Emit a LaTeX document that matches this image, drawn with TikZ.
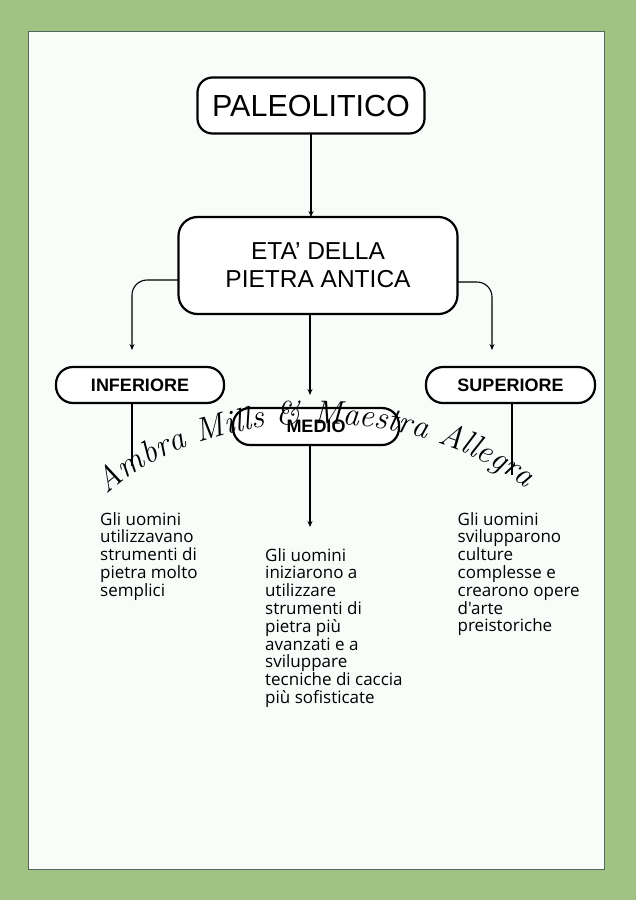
\documentclass[tikz,border=0pt]{standalone}
\usepackage{fontspec}
\newfontfamily\headfont{Liberation Sans}
\newfontfamily\bodyfont{Open Sans}[Ligatures=NoCommon]
\usetikzlibrary{arrows.meta,decorations.text}
\definecolor{bggreen}{HTML}{A0C283}
\definecolor{panelfill}{HTML}{F8FDF9}
\definecolor{panelline}{HTML}{56665A}
\tikzset{
  titlebox/.style={draw=black, line width=2.2pt, fill=white, rounded corners=15pt, inner sep=0pt, outer sep=0pt, align=center},
  pillbox/.style={draw=black, line width=2.2pt, fill=white, rounded corners=17pt, inner sep=0pt, outer sep=0pt, font=\headfont\bfseries\fontsize{18}{20}\selectfont},
  conn/.style={line width=1.1pt, draw=black},
  arr/.style={conn, -{Stealth[length=6pt,width=5pt]}},
  bodytext/.style={anchor=north west, inner sep=0pt, align=left, font=\bodyfont\fontsize{17}{17.8}\selectfont}
}
\begin{document}
\begin{tikzpicture}[x=1pt,y=-1pt]
\useasboundingbox (0,0) rectangle (636,900);
\fill[bggreen] (0,0) rectangle (636,900);
\draw[panelline, fill=panelfill, line width=1pt] (28,31) rectangle (604,869);

% nodes
\node[titlebox, minimum width=227pt, minimum height=56pt, rounded corners=15pt, font=\headfont\fontsize{30.5}{32}\selectfont] (pal) at (311,105.5) {PALEOLITICO};
\node[titlebox, minimum width=279pt, minimum height=97pt, rounded corners=19pt, font=\headfont\fontsize{24.5}{28}\selectfont] (eta) at (318,265.5) {ETA’ DELLA\\PIETRA ANTICA};
\node[pillbox, minimum width=168pt, minimum height=36pt] (inf) at (140,385) {INFERIORE};
\node[pillbox, minimum width=169pt, minimum height=36pt] (sup) at (510.5,385) {SUPERIORE};
\node[pillbox, minimum width=166pt, minimum height=37pt] (med) at (316,426.5) {MEDIO};

% coordinates for free ends
\coordinate (lt) at (132,350);
\coordinate (rt) at (492,350);
\coordinate (mt) at (310,395);
\coordinate (mt2) at (310,527);
\coordinate (lb) at (132,466);
\coordinate (rb) at (512,475);

% connectors
\draw[arr] (pal.south) -- (pal.south |- eta.north);
\draw[arr, rounded corners=15pt] ([yshift=-14.5pt]eta.west) -| (lt);
\draw[arr, rounded corners=15pt] ([yshift=-16.5pt]eta.east) -| (rt);
\draw[arr] (eta.south -| mt) -- (mt);
\draw[arr] (med.south -| mt2) -- (mt2);
\draw[conn] (inf.south -| lb) -- (lb);
\draw[conn] (sup.south -| rb) -- (rb);

% texts
\node[bodytext] (t1) at (100,512) {Gli uomini\\utilizzavano\\strumenti di\\pietra molto\\semplici};
\node[bodytext] (t2) at (265,548) {Gli uomini\\iniziarono a\\utilizzare\\strumenti di\\pietra più\\avanzati e a\\sviluppare\\tecniche di caccia\\più sofisticate};
\node[bodytext] (t3) at (457.5,512) {Gli uomini\\svilupparono\\culture\\complesse e\\crearono opere\\d'arte\\preistoriche};

% watermark
\path[decorate, decoration={text along path, text align=center,
  text={|\rmfamily\itshape\fontsize{33}{33}\selectfont|Ambra Mills {\&} Maestra Allegra}}]
  (96,505) .. controls (200,398) and (420,398) .. (537,497);
\end{tikzpicture}
\end{document}
